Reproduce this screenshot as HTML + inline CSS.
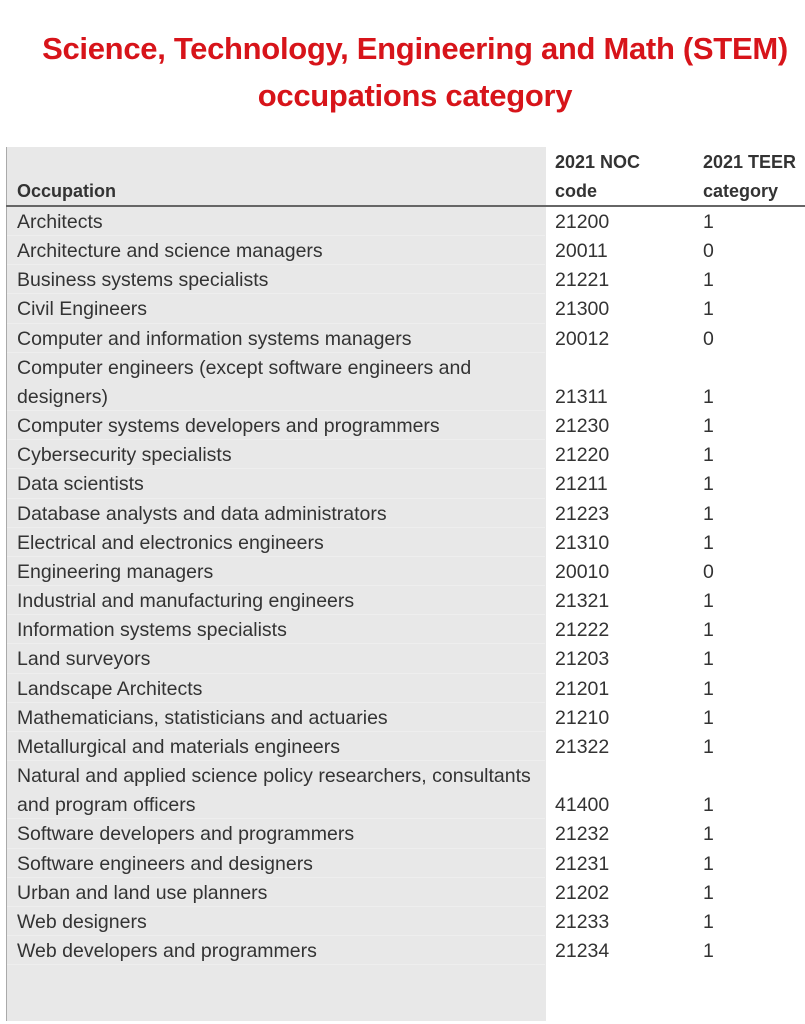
<!DOCTYPE html>
<html><head><meta charset="utf-8"><style>
body{margin:0;width:805px;height:1024px;background:#fff;position:relative;overflow:hidden;font-family:"Liberation Sans",sans-serif;}
.t{position:absolute;left:0;width:830px;text-align:center;color:#d7141a;font-weight:bold;font-size:31px;letter-spacing:-0.3px;white-space:nowrap;}
.c{position:absolute;color:#333;font-size:19.5px;white-space:nowrap;line-height:20px;}
.h{font-weight:bold;font-size:18px;}
#grey{position:absolute;left:6px;top:147px;width:539px;height:874px;background:#e8e8e8;border-left:1px solid #aaa;}
#hline{position:absolute;left:6px;top:205px;width:799px;height:2px;background:#666;}
.sep{position:absolute;left:7px;width:538px;height:1px;background:#eeeeee;}
</style></head><body>
<div class="t" style="top:31px">Science, Technology, Engineering and Math (STEM)</div>
<div class="t" style="top:78px">occupations category</div>
<div id="grey"></div>
<div class="c h" style="left:17px;top:181px">Occupation</div>
<div class="c h" style="left:555px;top:152px">2021 NOC</div>
<div class="c h" style="left:555px;top:181px">code</div>
<div class="c h" style="left:703px;top:152px">2021 TEER</div>
<div class="c h" style="left:703px;top:181px">category</div>
<div id="hline"></div>
<script>
const occupations=["Architects","Architecture and science managers","Business systems specialists","Civil Engineers","Computer and information systems managers",["Computer engineers (except software engineers and","designers)"],"Computer systems developers and programmers","Cybersecurity specialists","Data scientists","Database analysts and data administrators","Electrical and electronics engineers","Engineering managers","Industrial and manufacturing engineers","Information systems specialists","Land surveyors","Landscape Architects","Mathematicians, statisticians and actuaries","Metallurgical and materials engineers",["Natural and applied science policy researchers, consultants","and program officers"],"Software developers and programmers","Software engineers and designers","Urban and land use planners","Web designers","Web developers and programmers"];
const nocCodes=["21200","20011","21221","21300","20012","21311","21230","21220","21211","21223","21310","20010","21321","21222","21203","21201","21210","21322","41400","21232","21231","21202","21233","21234"];
const teer=["1","0","1","1","0","1","1","1","1","1","1","0","1","1","1","1","1","1","1","1","1","1","1","1"];
const rowH=29.16, top0=212;
let line=0;
function add(txt,x,y,name){
  const d=document.createElement('div');d.className='c';d.textContent=txt;
  d.style.left=x+'px';d.style.top=y+'px';
  
  
  document.body.appendChild(d);
}
occupations.forEach((o,i)=>{
  const lines=Array.isArray(o)?o:[o];
  lines.forEach((l,j)=>add(l,17,top0+rowH*(line+j),'occupation-'+i));
  const last=line+lines.length-1;
  add(nocCodes[i],555,top0+rowH*last,'noc-code-'+i);
  add(teer[i],703,top0+rowH*last,'teer-'+i);
  line+=lines.length;
  const s=document.createElement('div');s.className='sep';s.style.top=(top0-6+rowH*line)+'px';
  
  
  document.body.appendChild(s);
});
</script>
</body></html>
